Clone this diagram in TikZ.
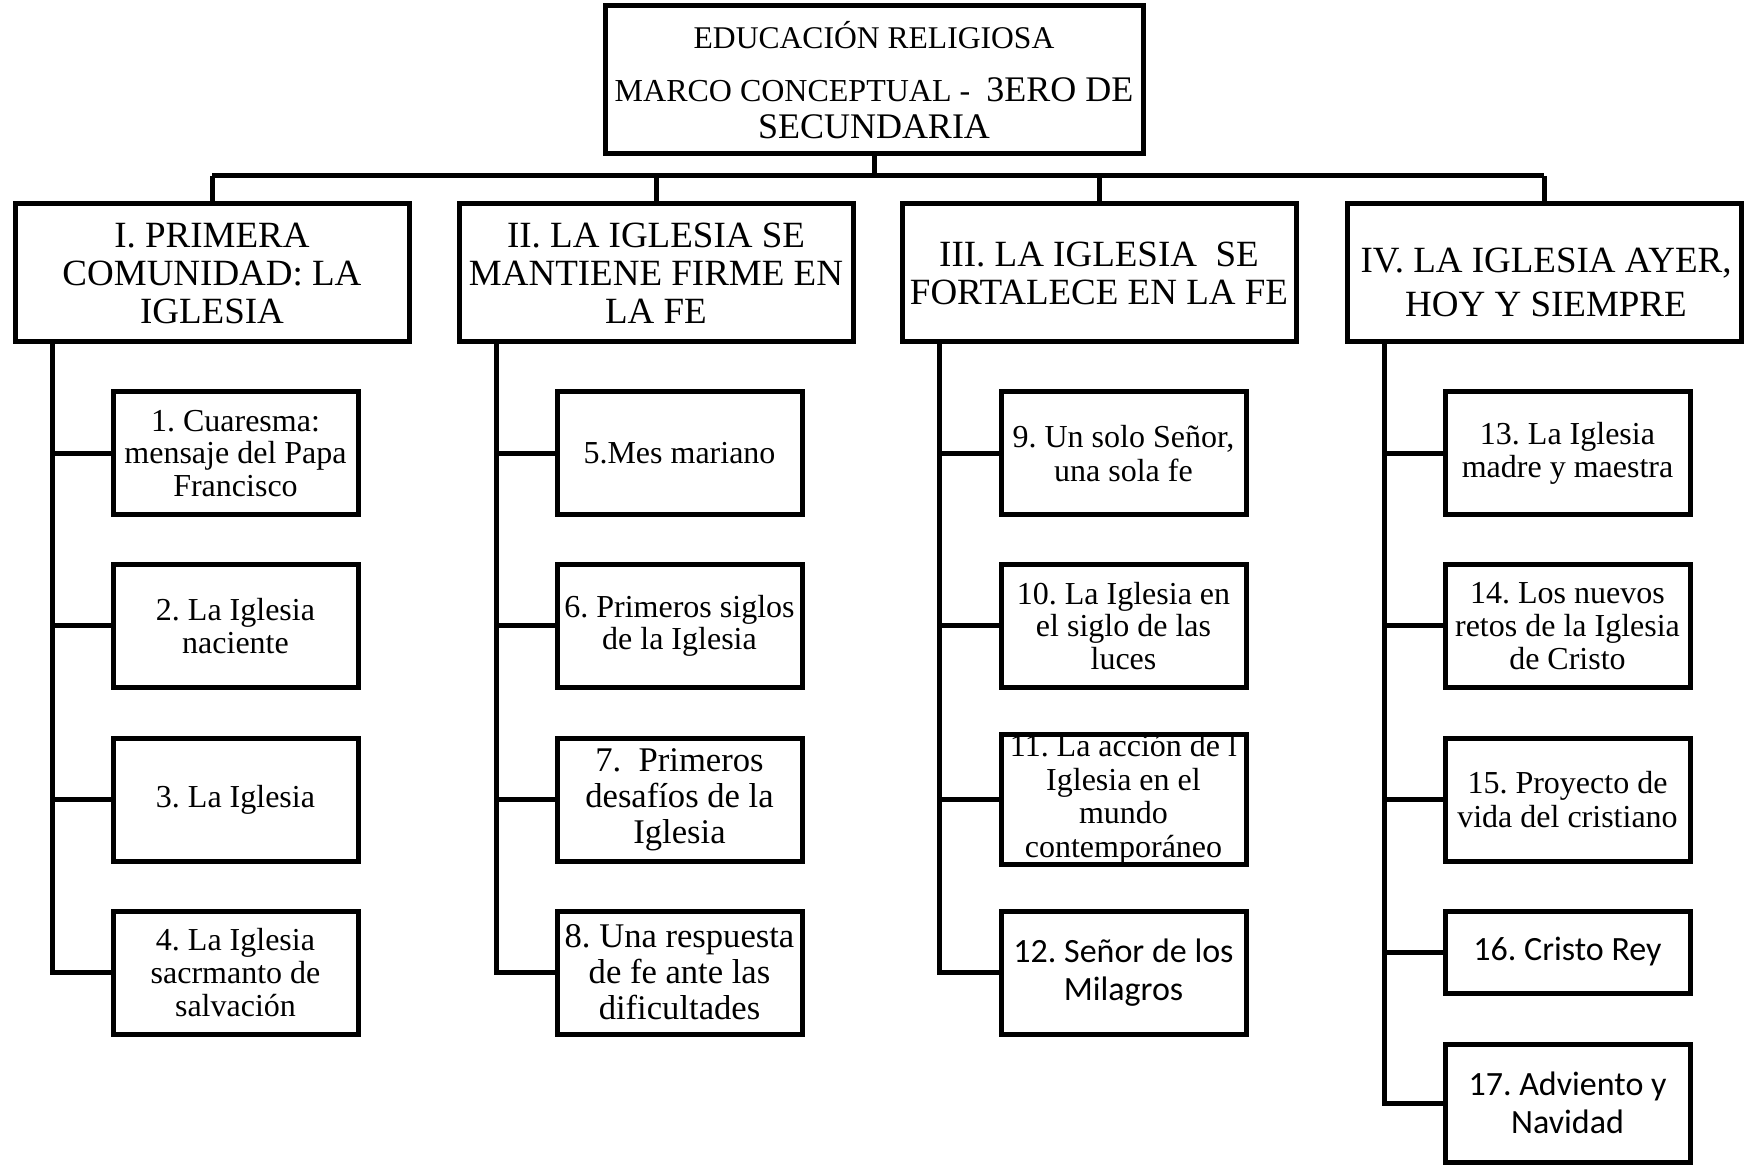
\documentclass[tikz,border=0pt]{standalone}
\usepackage{fontspec}
\setmainfont{Liberation Serif}
\newfontfamily\calibri{Carlito}
\frenchspacing
\begin{document}
\begin{tikzpicture}[x=0.5pt,y=-0.5pt]
\tikzset{
  box/.style={draw, line width=2.5pt, align=center, inner sep=0pt, fill=white},
  hbox/.style={box, minimum width=197pt, minimum height=69pt, font=\fontsize{18.5}{19}\selectfont},
  cbox/.style={box, minimum width=122.5pt, minimum height=61.5pt, font=\fontsize{16}{16.3}\selectfont},
  cboxb/.style={cbox, font=\fontsize{17.3}{18}\selectfont},
  cboxc/.style={cbox, font=\fontsize{16}{16.75}\selectfont},
  cboxs/.style={cbox, font=\calibri\fontsize{17}{19}\selectfont},
  link/.style={line width=2.5pt},
}
\useasboundingbox (0,0) rectangle (1751,1165);

% title
\node[box, minimum width=269pt, minimum height=74pt, font=\fontsize{18}{18.5}\selectfont] (top) at (874,80)
  {{\fontsize{15.8}{17}\selectfont EDUCACIÓN RELIGIOSA}\\[8pt]{\fontsize{16}{17}\selectfont MARCO CONCEPTUAL -\ \ }3ERO DE\\SECUNDARIA};

% level 1
\node[hbox] (h1) at (212,273) {I. PRIMERA\\COMUNIDAD: LA\\IGLESIA};
\node[hbox] (h2) at (656,273) {II. LA IGLESIA SE\\MANTIENE FIRME EN\\LA FE};
\node[hbox] (h3) at (1099,273) {III. LA IGLESIA\ \ SE\\FORTALECE EN LA FE};
\node[hbox] (h4) at (1544,273) {};
\node[align=center, inner sep=0pt, font=\fontsize{18.5}{22}\selectfont] (h4t) at (1546,282) {IV. LA IGLESIA AYER,\\HOY Y SIEMPRE};

% column I
\node[cbox] (c1) at (235.5,453.5) {1. Cuaresma:\\mensaje del Papa\\Francisco};
\node[cbox] (c2) at (235.5,626) {2. La Iglesia\\naciente};
\node[cbox] (c3) at (235.5,799.5) {3. La Iglesia};
\node[cbox] (c4) at (235.5,972.5) {4. La Iglesia\\sacrmanto de\\salvación};

% column II
\node[cbox] (c5) at (679.5,453.5) {5.Mes mariano};
\node[cbox] (c6) at (679.5,626) {6. Primeros siglos\\de la Iglesia};
\node[cboxb] (c7) at (679.5,799.5) {7.\ \ Primeros\\desafíos de la\\Iglesia};
\node[cboxb] (c8) at (679.5,972.5) {8. Una respuesta\\de fe ante las\\dificultades};

% column III
\node[cboxc] (c9) at (1123.5,453.5) {9. Un solo Señor,\\una sola fe};
\node[cbox] (c10) at (1123.5,626) {10. La Iglesia en\\el siglo de las\\luces};
\node[cboxc] (c11) at (1123.5,799.5) {11. La acción de l\\Iglesia en el\\mundo\\contemporáneo};
\node[cboxs] (c12) at (1123.5,972.5) {12. Señor de los\\Milagros};

% column IV
\node[cboxc] (c13) at (1567.5,453.5) {13. La Iglesia\\madre y maestra};
\node[cbox] (c14) at (1567.5,626) {14. Los nuevos\\retos de la Iglesia\\de Cristo};
\node[cboxc] (c15) at (1567.5,799.5) {15. Proyecto de\\vida del cristiano};
\node[cboxs, minimum height=41pt] (c16) at (1567.5,952) {16. Cristo Rey};
\node[cboxs, minimum height=59pt] (c17) at (1567.5,1103) {17. Adviento y\\Navidad};

% connectors: title to level 1
\coordinate (bus) at (874,176);
\draw[link] (top.south) -- (bus);
\draw[link] (h1.north |- bus) -- (h4.north |- bus);
\foreach \h in {h1,h2,h3,h4} \draw[link] (\h.north |- bus) -- (\h.north);

% trunks
\coordinate (t1) at ([xshift=20pt]h1.south west);
\coordinate (t2) at ([xshift=20pt]h2.south west);
\coordinate (t3) at ([xshift=20pt]h3.south west);
\coordinate (t4) at ([xshift=20pt]h4.south west);
\draw[link] (t1) |- (c4.west);
\draw[link] (t2) |- (c8.west);
\draw[link] (t3) |- (c12.west);
\draw[link] (t4) |- (c17.west);
\foreach \c in {c1,c2,c3} \draw[link] (\c.west) -- (\c.west -| t1);
\foreach \c in {c5,c6,c7} \draw[link] (\c.west) -- (\c.west -| t2);
\foreach \c in {c9,c10,c11} \draw[link] (\c.west) -- (\c.west -| t3);
\foreach \c in {c13,c14,c15,c16} \draw[link] (\c.west) -- (\c.west -| t4);
\end{tikzpicture}
\end{document}
